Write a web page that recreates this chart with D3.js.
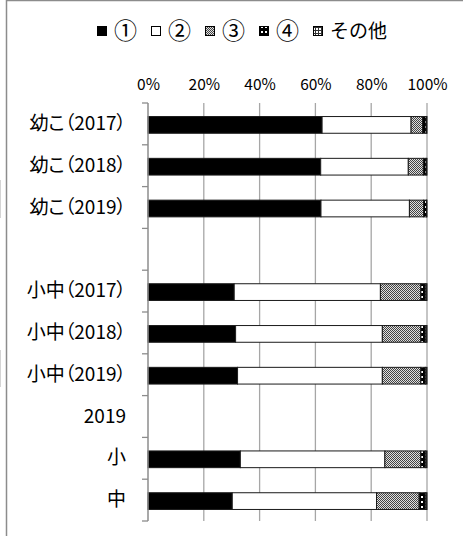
<!DOCTYPE html>
<html>
<head>
<meta charset="utf-8">
<script src="https://cdn.jsdelivr.net/npm/d3@7"></script>
<style>
  body { margin: 0; background: #fff; }
  svg text { font-family: "Noto Sans CJK JP", sans-serif; fill: #000; }
  .cat text { font-feature-settings: "palt"; }
</style>
</head>
<body>
<svg id="chart" width="463" height="536"></svg>
<script>
// categories (blank row and "2019" row have no bars)
const categories = ["幼こ（2017）", "幼こ（2018）", "幼こ（2019）", "", "小中（2017）", "小中（2018）", "小中（2019）", "2019", "小", "中"];
const seriesNames = ["①", "②", "③", "④", "その他"];
const s1 = [62.4, 61.9, 62.0, null, 30.9, 31.4, 32.1, null, 33.1, 30.2];
const s2 = [31.9, 31.4, 31.7, null, 52.4, 52.6, 51.9, null, 51.8, 51.7];
const s3 = [4.1, 5.4, 5.1, null, 14.5, 13.8, 13.8, null, 12.9, 15.3];
const s4 = [1.3, 1.0, 1.0, null, 1.6, 1.6, 1.6, null, 1.6, 2.2];
const s5 = [0.3, 0.3, 0.2, null, 0.6, 0.6, 0.6, null, 0.6, 0.6];
const xTicks = [0, 20, 40, 60, 80, 100];

const svg = d3.select("#chart");
const fills = ["#000", "#fff", "url(#p3)", "url(#p4)", "url(#p5)"];

// patterns
const defs = svg.append("defs");
const p3 = defs.append("pattern").attr("id", "p3").attr("width", 2).attr("height", 2).attr("patternUnits", "userSpaceOnUse");
p3.append("rect").attr("width", 2).attr("height", 2).attr("fill", "#e0e0e0");
p3.append("rect").attr("width", 1).attr("height", 1).attr("fill", "#444");
p3.append("rect").attr("x", 1).attr("y", 1).attr("width", 1).attr("height", 1).attr("fill", "#444");
const p4 = defs.append("pattern").attr("id", "p4").attr("width", 4).attr("height", 5).attr("patternUnits", "userSpaceOnUse");
p4.append("rect").attr("width", 4).attr("height", 5).attr("fill", "#000");
p4.append("rect").attr("x", 1).attr("y", 1).attr("width", 2).attr("height", 2).attr("fill", "#fff");
const p5 = defs.append("pattern").attr("id", "p5").attr("width", 3).attr("height", 3).attr("patternUnits", "userSpaceOnUse");
p5.append("rect").attr("width", 3).attr("height", 3).attr("fill", "#fff");
p5.append("rect").attr("width", 1).attr("height", 3).attr("fill", "#333");
p5.append("rect").attr("width", 3).attr("height", 1).attr("fill", "#333");

// outer frame
svg.append("path").attr("d", "M6.5,536V0.5H463").attr("fill", "none").attr("stroke", "#8c8c8c").attr("stroke-width", 1.5);
svg.append("line").attr("x1", 0.5).attr("x2", 0.5).attr("y1", 180).attr("y2", 218).attr("stroke", "#d4d4d4");
svg.append("line").attr("x1", 0.5).attr("x2", 0.5).attr("y1", 350).attr("y2", 387).attr("stroke", "#d4d4d4");

const x = d3.scaleLinear().domain([0, 100]).range([148, 427]);
const y = d3.scaleBand().domain(d3.range(categories.length)).range([103, 521]).paddingInner(0.6).paddingOuter(0.3);

// gridlines
svg.append("g").selectAll("line").data(xTicks.slice(1)).join("line")
  .attr("x1", d => x(d)).attr("x2", d => x(d))
  .attr("y1", 103).attr("y2", 521)
  .attr("stroke", "#a6a6a6").attr("stroke-width", 1.3);

// top axis labels
const xAxis = svg.append("g").attr("transform", "translate(0,94)")
  .call(d3.axisTop(x).tickValues(xTicks).tickSize(0).tickPadding(4).tickFormat(d => d + "%"));
xAxis.select(".domain").remove();
xAxis.selectAll("text").style("font-size", "15.5px");

// stacked bars
const stack = d3.stack().keys(d3.range(5)).value((d, k) => d[k] || 0);
const rows = categories.map((c, i) => [s1[i], s2[i], s3[i], s4[i], s5[i]]);
const layers = stack(rows);
svg.append("g").selectAll("g").data(layers).join("g")
  .attr("fill", (d, i) => fills[i])
  .selectAll("rect").data(d => d.map((v, i) => ({ v, i })).filter(e => rows[e.i][0] != null))
  .join("rect")
  .attr("x", d => x(d.v[0]))
  .attr("width", d => x(d.v[1]) - x(d.v[0]))
  .attr("y", d => y(d.i) + 1)
  .attr("height", y.bandwidth())
  .attr("stroke", "#1a1a1a").attr("stroke-width", 1);

// category axis
const yAxis = svg.append("g").attr("class", "cat").attr("transform", "translate(148,0)")
  .call(d3.axisLeft(y).tickSize(0).tickPadding(22).tickFormat(i => categories[i]));
yAxis.select(".domain").remove();
yAxis.selectAll("text").style("font-size", "19px");
const bounds = d3.range(categories.length + 1).map(i => 103 + i * (418 / categories.length));
svg.append("g").selectAll("line").data(bounds).join("line")
  .attr("x1", 142).attr("x2", 148).attr("y1", d => d).attr("y2", d => d)
  .attr("stroke", "#8c8c8c").attr("stroke-width", 1.3);
svg.append("line").attr("x1", x(0)).attr("x2", x(0)).attr("y1", 103).attr("y2", 521)
  .attr("stroke", "#8c8c8c").attr("stroke-width", 1.5);

// legend
const legend = svg.append("g");
let lx = 97;
seriesNames.forEach((name, i) => {
  legend.append("rect").attr("x", lx + 0.5).attr("y", 26.5).attr("width", 9).attr("height", 9)
    .attr("fill", fills[i]).attr("stroke", "#000").attr("stroke-width", 1);
  const t = legend.append("text").attr("x", lx + 17).attr("y", i < 4 ? 39 : 38)
    .style("font-size", i < 4 ? "23px" : "19px").text(name);
  lx += 17 + t.node().getComputedTextLength() + 14;
});
</script>
</body>
</html>
